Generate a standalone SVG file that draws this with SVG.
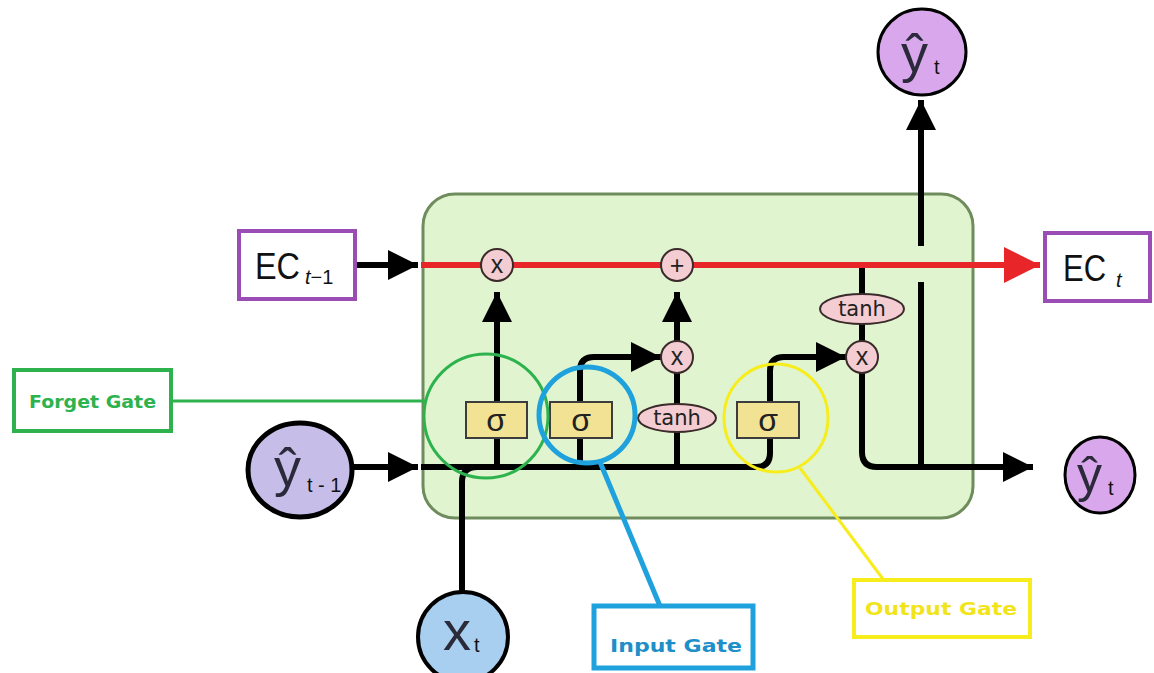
<svg xmlns="http://www.w3.org/2000/svg" width="1154" height="673" viewBox="0 0 1154 673">
<defs>
<marker id="ah" viewBox="0 0 10 10" refX="10" refY="5" markerWidth="30" markerHeight="36" markerUnits="userSpaceOnUse" orient="auto"><path d="M0,0 L10,5 L0,10 z" fill="#000"/></marker>
<marker id="ahr" viewBox="0 0 10 10" refX="10" refY="5" markerWidth="36" markerHeight="38" markerUnits="userSpaceOnUse" orient="auto"><path d="M0,0 L10,5 L0,10 z" fill="#e8262a"/></marker>
<style>
.ln{fill:none;stroke:#000;stroke-width:6}
.op{fill:#f4cdd3;stroke:#3a2a2a;stroke-width:2}
.opt{font-family:"Liberation Sans",Arial,sans-serif;font-size:25px;fill:#222;text-anchor:middle}
.sg{fill:#f2e394;stroke:#3c3c3c;stroke-width:2}
.sgt{font-family:"Liberation Sans",Arial,sans-serif;font-size:32px;fill:#222;text-anchor:middle}
.th{fill:#f4cdd3;stroke:#3a2a2a;stroke-width:2}
.tht{font-family:"DejaVu Sans",sans-serif;font-size:21px;fill:#222;text-anchor:middle}
.ec{fill:#fff;stroke:#9a4db5;stroke-width:4}
.ect{font-family:"Liberation Sans",Arial,sans-serif;font-size:37px;fill:#111}
.sub{font-family:"Liberation Sans",Arial,sans-serif;font-size:20px;fill:#111}
.yh{font-family:"Liberation Sans",Arial,sans-serif;fill:#2a2a3a}
.gl{font-family:"DejaVu Sans",sans-serif;font-weight:bold;font-size:18px}
</style>
</defs>
<rect width="1154" height="673" fill="#fff"/>
<g id="cell"><rect x="423" y="194" width="550" height="324" rx="32" fill="#e0f5cf" stroke="#6f8c5c" stroke-width="3"/></g>
<g id="connectors">
<line class="ln" x1="357" y1="265" x2="418" y2="265" marker-end="url(#ah)"/>
<line class="ln" x1="353" y1="467" x2="418" y2="467" marker-end="url(#ah)"/>
<path class="ln" d="M462,592 V482 Q462,467 477,467"/>
<path class="ln" d="M421,467 H756 Q770,467 770,453 V371 Q770,357 784,357 H846" marker-end="url(#ah)"/>
<path class="ln" d="M497,467 V292" marker-end="url(#ah)"/>
<path class="ln" d="M580,467 V371 Q580,357 594,357 H661" marker-end="url(#ah)"/>
<path class="ln" d="M677,467 V292" marker-end="url(#ah)"/>
<path class="ln" d="M862,265 V452 Q862,467 877,467 H1033" marker-end="url(#ah)"/>
<path class="ln" d="M921,467 V282"/>
<path class="ln" d="M921,246 V100" marker-end="url(#ah)"/>
<line x1="421" y1="265" x2="1040" y2="265" stroke="#e8262a" stroke-width="6" marker-end="url(#ahr)"/>
<line x1="172" y1="401" x2="426" y2="401" stroke="#2db24e" stroke-width="3"/>
<line x1="600" y1="462" x2="660" y2="606" stroke="#1ea1dc" stroke-width="5"/>
<line x1="800" y1="468" x2="883" y2="579" stroke="#f7ec1c" stroke-width="3"/>
</g>
<g id="mul1"><circle class="op" cx="497" cy="265" r="16"/><text class="opt" x="497" y="273">x</text></g>
<g id="add"><circle class="op" cx="677" cy="265" r="16"/><text class="opt" x="677" y="274">+</text></g>
<g id="mul2"><circle class="op" cx="677" cy="357" r="16"/><text class="opt" x="677" y="365">x</text></g>
<g id="mul3"><circle class="op" cx="862" cy="357" r="16"/><text class="opt" x="862" y="365">x</text></g>
<g id="sig1"><rect class="sg" x="466" y="402" width="61" height="36"/><text class="sgt" x="496" y="431">σ</text></g>
<g id="sig2"><rect class="sg" x="550" y="402" width="62" height="36"/><text class="sgt" x="581" y="431">σ</text></g>
<g id="sig3"><rect class="sg" x="737" y="402" width="62" height="36"/><text class="sgt" x="768" y="431">σ</text></g>
<g id="tanh1"><ellipse class="th" cx="677" cy="418" rx="39" ry="14"/><text class="tht" x="677" y="425">tanh</text></g>
<g id="tanh2"><ellipse class="th" cx="862" cy="309" rx="42" ry="15"/><text class="tht" x="862" y="316">tanh</text></g>
<g id="forget-circle"><circle cx="486" cy="416" r="62" fill="none" stroke="#2db24e" stroke-width="3"/></g>
<g id="input-circle"><circle cx="587" cy="415" r="48" fill="none" stroke="#1ea1dc" stroke-width="5"/></g>
<g id="output-circle"><ellipse cx="776" cy="418" rx="52" ry="54" fill="none" stroke="#f7ec1c" stroke-width="3"/></g>
<g id="ec-prev"><rect class="ec" x="239" y="231" width="116" height="68"/><text class="ect" x="255" y="279" textLength="45" lengthAdjust="spacingAndGlyphs">EC</text><text class="sub" x="305" y="284"><tspan font-style="italic">t</tspan>−1</text></g>
<g id="ec-t"><rect class="ec" x="1045" y="233" width="105" height="68"/><text class="ect" x="1063" y="281" textLength="43" lengthAdjust="spacingAndGlyphs">EC</text><text class="sub" x="1116" y="287" font-style="italic">t</text></g>
<g id="y-prev"><ellipse cx="300" cy="470" rx="52" ry="47" fill="#c6bde8" stroke="#000" stroke-width="5"/><text class="yh" x="274" y="486" font-size="54">ŷ</text><text class="sub" x="307" y="492" font-size="19">t - 1</text></g>
<g id="y-top"><ellipse cx="922" cy="52" rx="44" ry="43" fill="#d9a8ec" stroke="#000" stroke-width="3"/><text class="yh" x="901" y="72" font-size="54">ŷ</text><text class="sub" x="934" y="74" font-size="20">t</text></g>
<g id="y-out"><ellipse cx="1100" cy="475" rx="35" ry="38" fill="#d9a8ec" stroke="#000" stroke-width="3"/><text class="yh" x="1077" y="492" font-size="50">ŷ</text><text class="sub" x="1108" y="495" font-size="20">t</text></g>
<g id="x-t"><circle cx="463" cy="637" r="45" fill="#a8cff0" stroke="#000" stroke-width="4"/><text class="yh" x="443" y="650" font-size="56" fill="#111">x</text><text class="sub" x="474" y="652" font-size="20">t</text></g>
<g id="forget-gate"><rect x="14" y="370" width="157" height="61" fill="#fff" stroke="#2db24e" stroke-width="4"/><text class="gl" x="29" y="408" fill="#2db24e" textLength="127" lengthAdjust="spacingAndGlyphs">Forget Gate</text></g>
<g id="input-gate"><rect x="594" y="606" width="159" height="62" fill="#fff" stroke="#1ea1dc" stroke-width="5"/><text class="gl" x="610" y="652" fill="#1e8fc8" font-size="20" textLength="132" lengthAdjust="spacingAndGlyphs">Input Gate</text></g>
<g id="output-gate"><rect x="854" y="580" width="176" height="57" fill="#fff" stroke="#f7ec1c" stroke-width="4"/><text class="gl" x="865" y="615" fill="#f2e41a" font-size="19" textLength="152" lengthAdjust="spacingAndGlyphs">Output Gate</text></g>
</svg>
